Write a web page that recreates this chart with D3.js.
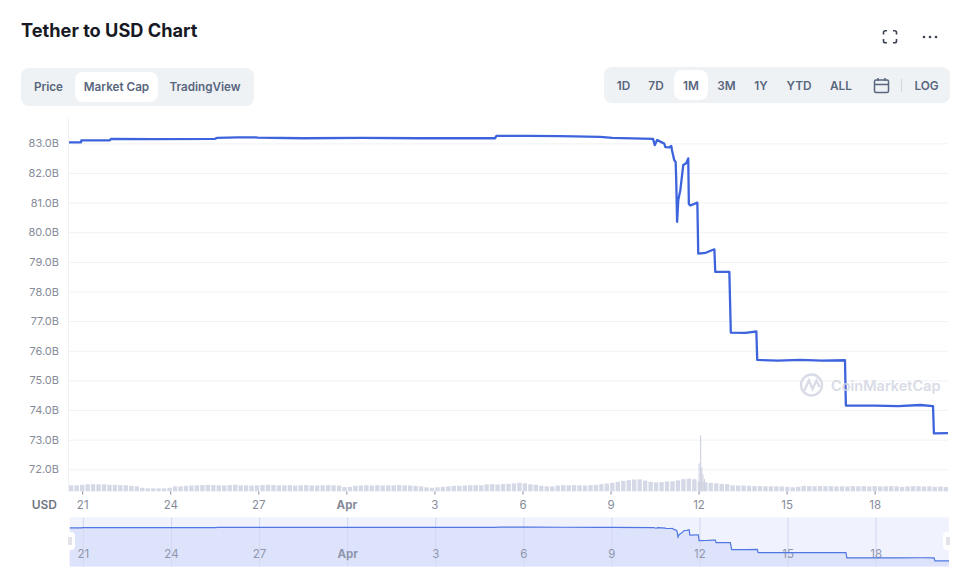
<!DOCTYPE html>
<html>
<head>
<meta charset="utf-8">
<script src="https://cdn.jsdelivr.net/npm/d3@7/dist/d3.min.js"></script>
<style>
  html, body { margin: 0; background: #fff; }
  svg { display: block; font-family: Inter, "Noto Sans", sans-serif; }
  .domain { display: none; }
</style>
</head>
<body>
<script>
// days counted from the "21" tick, market cap in billions
const lineDays = [-0.45, -0.04, -0.03, 0.94, 0.98, 2.4, 4.52, 4.59, 5.3, 5.89, 5.99, 7.5, 9.5, 11.5, 14.07, 14.11, 15.2, 16.29, 17.65, 18.06, 19.45,
  19.51, 19.59, 19.73, 19.83, 19.87, 20.0, 20.07, 20.1, 20.17, 20.22, 20.24, 20.27, 20.31, 20.38, 20.48, 20.58, 20.65, 20.67, 20.72, 20.96,
  20.99, 21.23, 21.47, 21.54, 21.57, 22.05, 22.1, 22.6, 22.97, 23.0, 23.7, 24.47, 25.2, 25.99, 26.02, 27.02, 27.8, 28.56, 28.99, 29.02, 29.5];
const lineValues = [83.03, 83.03, 83.1, 83.1, 83.15, 83.14, 83.15, 83.18, 83.2, 83.2, 83.19, 83.17, 83.18, 83.17, 83.17, 83.25, 83.25, 83.24, 83.22, 83.18, 83.15,
  82.94, 83.11, 83.04, 82.99, 82.87, 82.86, 82.91, 82.75, 82.44, 82.37, 81.75, 80.35, 81.09, 81.42, 82.27, 82.33, 82.49, 80.95, 80.9, 81.0,
  79.28, 79.3, 79.4, 79.42, 78.66, 78.66, 76.61, 76.6, 76.65, 75.69, 75.67, 75.69, 75.67, 75.68, 74.15, 74.15, 74.13, 74.17, 74.13, 73.21, 73.22];

const volume = [60, 60, 65, 70, 72, 70, 70, 65,
  65, 62, 60, 55, 50,
  35, 30, 30, 30, 30, 35,
  50, 50, 55,
  58, 60, 62, 65, 62, 60, 60, 62, 65, 60, 60, 58, 60, 62, 65, 62, 60, 60, 62, 58, 60, 62, 60, 58, 60, 62, 60, 58,
  42, 45,
  55, 58, 60, 58, 60, 58, 60, 60, 62, 60, 58, 55, 50,
  40, 35, 40,
  45, 50, 55, 55, 58, 60,
  62, 60, 70, 72, 68, 72, 75, 80, 85, 80,
  70, 65, 55, 50,
  48, 58, 62, 60, 62, 60, 58, 62, 65,
  72, 78, 85, 95,
  105, 112, 118, 120, 108,
  95, 90, 92, 98, 100,
  110, 122, 128, 122, 100,
  92, 85, 80, 75, 72,
  60, 58, 58, 55, 52,
  52, 50, 50, 50, 48,
  45, 40, 45,
  55, 52, 50, 52, 50, 52, 50, 50, 48, 52, 50, 52, 48, 52, 50, 50, 52, 50, 45, 50, 52, 50, 48, 50, 45, 48, 42];
const spikeDays = [21.02, 21.07, 21.11, 21.15, 21.2];
const spikeVolume = [280, 563, 240, 170, 125];

const yTicks = d3.range(72, 84);
const dayTicks = d3.range(0, 30, 3);
const dayLabels = ["21", "24", "27", "Apr", "3", "6", "9", "12", "15", "18"];
const leftTabs = ["Price", "Market Cap", "TradingView"];
const leftTabCenters = [48.5, 116.5, 205];
const rangeTabs = ["1D", "7D", "1M", "3M", "1Y", "YTD", "ALL", "LOG"];
const rangeTabCenters = [623.5, 656, 691, 726.5, 761, 799, 841, 926.5];

const width = 978, height = 581;
const svg = d3.select("body").append("svg").attr("width", width).attr("height", height);

const x = d3.scaleLinear().domain([-0.45, 29.5]).range([69, 948]);
const y = d3.scaleLinear().domain([72, 83]).range([469.3, 143.3]);
const yVol = d3.scaleLinear().domain([0, 563]).range([491.3, 435.3]);
const xBar = d3.scaleBand().domain(d3.range(volume.length)).range([69, 948]).paddingInner(0.2);
const xNav = d3.scaleLinear().domain([-0.44, 29.5]).range([70, 949]);
const yNav = d3.scaleLinear().domain([73.2, 83.25]).range([561, 527.2]);

// header
svg.append("text").attr("x", 21).attr("y", 37)
  .attr("font-size", 18.2).attr("font-weight", 700).attr("fill", "#171924")
  .text("Tether to USD Chart");

const btnFill = "#eff2f5", btnText = "#58667e";
svg.append("rect").attr("x", 21).attr("y", 68).attr("width", 233).attr("height", 38).attr("rx", 8).attr("fill", btnFill);
svg.append("rect").attr("x", 75).attr("y", 72).attr("width", 83).attr("height", 30).attr("rx", 8).attr("fill", "#fff");
svg.selectAll(".left-tab").data(leftTabs).enter().append("text")
  .attr("class", "left-tab")
  .attr("x", (d, i) => leftTabCenters[i]).attr("y", 91)
  .attr("text-anchor", "middle").attr("font-size", 11.7).attr("font-weight", 600).attr("fill", btnText)
  .text(d => d);

svg.append("rect").attr("x", 604).attr("y", 67).attr("width", 346).attr("height", 36).attr("rx", 8).attr("fill", btnFill);
svg.append("rect").attr("x", 674).attr("y", 70).attr("width", 34).attr("height", 30).attr("rx", 8).attr("fill", "#fff");
svg.selectAll(".range-tab").data(rangeTabs).enter().append("text")
  .attr("class", "range-tab")
  .attr("x", (d, i) => rangeTabCenters[i]).attr("y", 90)
  .attr("text-anchor", "middle").attr("font-size", 11.8).attr("font-weight", 600).attr("fill", btnText)
  .text(d => d);
svg.append("line").attr("x1", 901.5).attr("x2", 901.5).attr("y1", 79).attr("y2", 92).attr("stroke", "#cfd6e4");

// calendar icon
const cal = svg.append("g").attr("fill", "none").attr("stroke", btnText).attr("stroke-width", 1.5);
cal.append("rect").attr("x", 874.5).attr("y", 80).attr("width", 14).attr("height", 12.5).attr("rx", 1.5);
cal.append("path").attr("d", "M874.5 84.5H888.5M878 78V81M885 78V81");

// fullscreen and more icons
svg.append("path").attr("fill", "none").attr("stroke", "#3a4354").attr("stroke-width", 1.6)
  .attr("d", "M883.5 34.5V32.5Q883.5 30.8 885.2 30.8H887M893 30.8H894.8Q896.5 30.8 896.5 32.5V34.5M896.5 39V41Q896.5 42.8 894.8 42.8H893M887 42.8H885.2Q883.5 42.8 883.5 41V39");
svg.selectAll(".more-dot").data([924, 930, 936]).enter().append("circle")
  .attr("class", "more-dot").attr("cx", d => d).attr("cy", 37).attr("r", 1.3).attr("fill", "#3a4354");

// y axis with grid lines
const gridColor = "#eff2f5", axisText = "#858b99";
const yAxis = svg.append("g").attr("transform", "translate(69,0)")
  .call(d3.axisLeft(y).tickValues(yTicks).tickSize(-879).tickPadding(10).tickFormat(d => d.toFixed(1) + "B"));
yAxis.selectAll("line").attr("stroke", gridColor);
yAxis.selectAll("text").attr("fill", axisText).attr("font-size", 11).attr("font-family", "Inter");
svg.append("line").attr("x1", 68.5).attr("x2", 68.5).attr("y1", 117).attr("y2", 492).attr("stroke", gridColor);

// volume
svg.selectAll(".vol").data(volume).enter().append("rect")
  .attr("class", "vol")
  .attr("x", (d, i) => xBar(i)).attr("width", xBar.bandwidth())
  .attr("y", d => yVol(d)).attr("height", d => yVol(0) - yVol(d))
  .attr("fill", "#d5d8e6");
svg.selectAll(".spike").data(spikeVolume).enter().append("rect")
  .attr("class", "spike")
  .attr("x", (d, i) => x(spikeDays[i]) - 0.6).attr("width", 1.2)
  .attr("y", d => yVol(d)).attr("height", d => yVol(0) - yVol(d))
  .attr("fill", "#d0d3e1");

// x axis
const xAxis = svg.append("g").attr("transform", "translate(0,491.5)")
  .call(d3.axisBottom(x).tickValues(dayTicks).tickSize(3).tickPadding(6).tickFormat((d, i) => dayLabels[i]));
xAxis.selectAll("line").attr("stroke", "#808a9d");
xAxis.selectAll("text").attr("fill", axisText).attr("font-size", 11.5).attr("font-family", "Inter")
  .attr("font-weight", d => d === 9 ? 700 : 400);
svg.append("text").attr("x", 57).attr("y", 509).attr("text-anchor", "end")
  .attr("font-size", 12).attr("font-weight", 600).attr("fill", "#6f7583").text("USD");

// main line
const points = lineDays.map((d, i) => [d, lineValues[i]]);
svg.append("path").datum(points)
  .attr("fill", "none").attr("stroke", "#3d64dc").attr("stroke-width", 2.3).attr("stroke-linejoin", "round")
  .attr("d", d3.line().x(d => x(d[0])).y(d => y(d[1])));

// watermark
const mark = svg.append("g").attr("opacity", 0.85);
mark.append("circle").attr("cx", 811.5).attr("cy", 385).attr("r", 10.5)
  .attr("fill", "none").attr("stroke", "#d3d7e3").attr("stroke-width", 2.4);
mark.append("path").attr("fill", "none").attr("stroke", "#d3d7e3").attr("stroke-width", 2.4)
  .attr("d", "M804 391L809 380.5L812.5 389L816.5 380.5L819.5 387");
mark.append("text").attr("x", 831).attr("y", 391)
  .attr("font-size", 14.5).attr("font-weight", 600).attr("fill", "#d3d7e3").text("CoinMarketCap");

// navigator
svg.append("rect").attr("x", 70).attr("y", 517.5).attr("width", 879).attr("height", 49).attr("fill", "#f0f2fd");
svg.append("path").datum(points).attr("fill", "#dde3fb")
  .attr("d", d3.area().x(d => xNav(d[0])).y0(566.5).y1(d => yNav(d[1])));
const navAxis = svg.append("g").attr("transform", "translate(0,517.5)")
  .call(d3.axisBottom(xNav).tickValues(dayTicks).tickSize(49).tickPadding(-17).tickFormat((d, i) => dayLabels[i]));
navAxis.selectAll("line").attr("stroke", "#d3d9f2");
navAxis.selectAll("text").attr("fill", "#8f96ad").attr("font-size", 11.5).attr("font-family", "Inter")
  .attr("font-weight", d => d === 9 ? 700 : 400);
svg.append("path").datum(points)
  .attr("fill", "none").attr("stroke", "#4f76e2").attr("stroke-width", 1.2)
  .attr("d", d3.line().x(d => xNav(d[0])).y(d => yNav(d[1])));

// navigator handles
const handles = svg.selectAll(".handle").data([70, 948]).enter().append("g").attr("class", "handle");
handles.append("rect").attr("x", d => d - 5).attr("y", 532).attr("width", 10).attr("height", 18).attr("rx", 4)
  .attr("fill", "#fff");
handles.append("path").attr("stroke", "#b4b9c6").attr("stroke-width", 0.8)
  .attr("d", d => `M${d - 1} 537V545M${d + 1} 537V545`);
</script>
</body>
</html>
